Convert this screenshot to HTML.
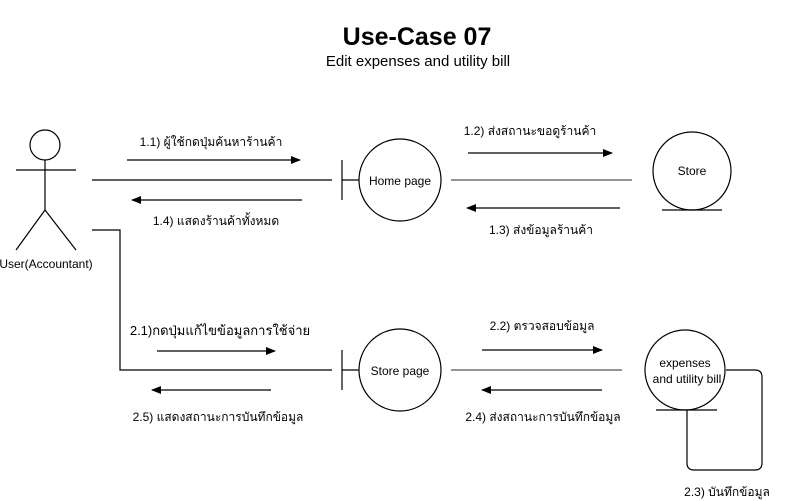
<!DOCTYPE html>
<html><head><meta charset="utf-8"><style>
html,body{margin:0;padding:0;background:#fff;}
svg{display:block;}
text{font-family:"Liberation Sans","Noto Sans CJK SC",sans-serif;fill:#000;}
</style></head><body>
<svg width="785" height="501" viewBox="0 0 785 501" xmlns="http://www.w3.org/2000/svg">
<defs><marker id="a" markerWidth="10" markerHeight="8" refX="9" refY="4" orient="auto" markerUnits="userSpaceOnUse"><path d="M0,0 L10,4 L0,8 Z" fill="#000"/></marker></defs>
<text x="417" y="45" font-size="25" font-weight="bold" text-anchor="middle">Use-Case 07</text>
<text x="418" y="66" font-size="15" text-anchor="middle">Edit expenses and utility bill</text>
<g stroke="#000" stroke-width="1.2" fill="none">
<circle cx="45" cy="145" r="15"/>
<line x1="45" y1="160" x2="45" y2="210"/>
<line x1="16" y1="170" x2="76" y2="170"/>
<line x1="45" y1="210" x2="16" y2="250"/>
<line x1="45" y1="210" x2="76" y2="250"/>
<line x1="92" y1="180" x2="332" y2="180"/>
<line x1="342" y1="160" x2="342" y2="200"/>
<line x1="342" y1="180" x2="359" y2="180"/>
<circle cx="400" cy="180" r="41" fill="#fff"/>
<line x1="451" y1="180" x2="632" y2="180" stroke="#555"/>
<circle cx="692" cy="171" r="39" fill="#fff"/>
<line x1="662" y1="210" x2="722" y2="210"/>
<polyline points="92,230 120,230 120,370 332,370"/>
<line x1="342" y1="350" x2="342" y2="390"/>
<line x1="342" y1="370" x2="359" y2="370"/>
<circle cx="400" cy="370" r="41" fill="#fff"/>
<line x1="451" y1="370" x2="622" y2="370" stroke="#555"/>
<path d="M726,370 H755 Q762,370 762,377 V463 Q762,470 755,470 H694 Q687,470 687,463 V410"/>
<circle cx="685" cy="370" r="40" fill="#fff"/>
<line x1="656" y1="410" x2="717" y2="410"/>
<line x1="127" y1="160" x2="300" y2="160" marker-end="url(#a)"/>
<line x1="302" y1="200" x2="132" y2="200" marker-end="url(#a)"/>
<line x1="468" y1="153" x2="612" y2="153" marker-end="url(#a)"/>
<line x1="620" y1="208" x2="467" y2="208" marker-end="url(#a)"/>
<line x1="157" y1="351" x2="275" y2="351" marker-end="url(#a)"/>
<line x1="271" y1="390" x2="152" y2="390" marker-end="url(#a)"/>
<line x1="482" y1="350" x2="602" y2="350" marker-end="url(#a)"/>
<line x1="602" y1="390" x2="482" y2="390" marker-end="url(#a)"/>
</g>
<g font-size="12">
<text x="46" y="268" text-anchor="middle">User(Accountant)</text>
<text x="400" y="185" text-anchor="middle">Home page</text>
<text x="692" y="175" text-anchor="middle">Store</text>
<text x="400" y="375" text-anchor="middle">Store page</text>
<text x="685" y="367" text-anchor="middle">expenses</text>
<text x="687" y="383" text-anchor="middle">and utility bill</text>
<text x="211" y="146" text-anchor="middle">1.1) ผู้ใช้กดปุ่มค้นหาร้านค้า</text>
<text x="216" y="225" text-anchor="middle">1.4) แสดงร้านค้าทั้งหมด</text>
<text x="530" y="135" text-anchor="middle">1.2) ส่งสถานะขอดูร้านค้า</text>
<text x="541" y="234" text-anchor="middle">1.3) ส่งข้อมูลร้านค้า</text>
<text x="220" y="335" font-size="13" text-anchor="middle">2.1)กดปุ่มแก้ไขข้อมูลการใช้จ่าย</text>
<text x="218" y="421" text-anchor="middle">2.5) แสดงสถานะการบันทึกข้อมูล</text>
<text x="542" y="330" text-anchor="middle">2.2) ตรวจสอบข้อมูล</text>
<text x="543" y="421" text-anchor="middle">2.4) ส่งสถานะการบันทึกข้อมูล</text>
<text x="727" y="496" text-anchor="middle">2.3) บันทึกข้อมูล</text>
</g>
</svg>
</body></html>
